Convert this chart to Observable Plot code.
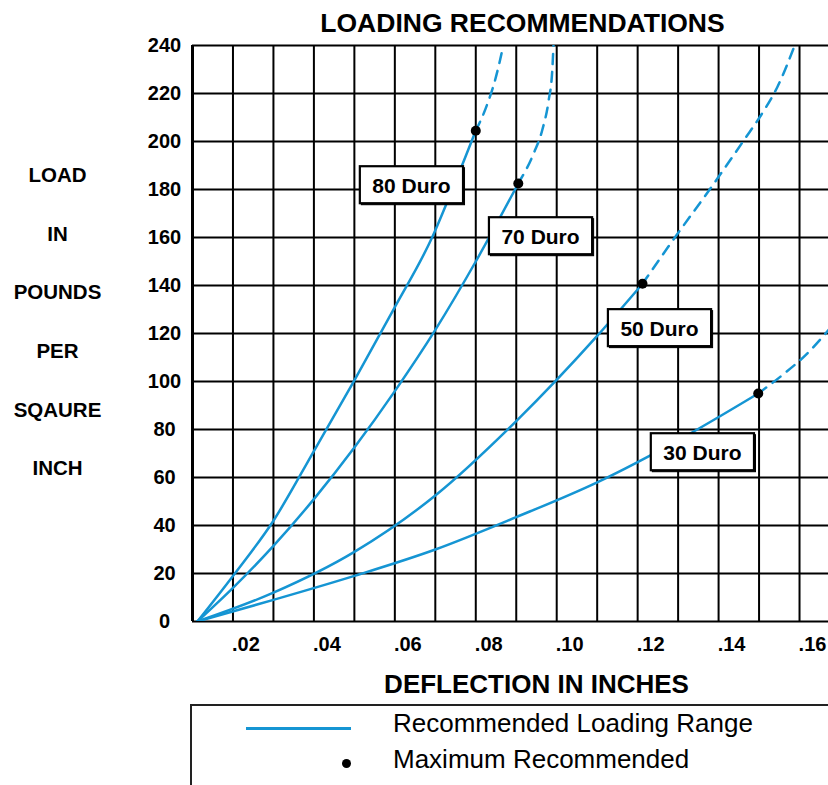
<!DOCTYPE html>
<html><head><meta charset="utf-8">
<script src="https://cdn.jsdelivr.net/npm/d3@7"></script>
<script src="https://cdn.jsdelivr.net/npm/@observablehq/plot@0.6"></script>
<style>
body{margin:0;background:#fff}
#wrap{position:relative;width:828px;height:785px;overflow:hidden;font-family:"Liberation Sans",Arial,Helvetica,sans-serif;color:#000;background:#fff}
.abs{position:absolute;white-space:nowrap}
</style></head><body>
<div id="wrap">
<div class="abs" id="title" style="left:522.5px;top:10px;transform:translateX(-50%);font-size:26.5px;line-height:26.5px;font-weight:bold">LOADING RECOMMENDATIONS</div>
<div class="abs" id="chart" style="left:0;top:36px"></div>
<div class="abs" id="xlabel" style="left:536.5px;top:671px;transform:translateX(-50%);font-size:26px;line-height:26px;font-weight:bold">DEFLECTION IN INCHES</div>
<div class="abs" id="legend" style="left:190px;top:704px;width:700px;height:100px;border-left:2px solid #222;border-top:2px solid #222">
  <div class="abs" style="left:54px;top:21px;width:105px;height:3px;background:#1595d3"></div>
  <div class="abs" id="leg1" style="left:201px;top:4px;font-size:26px;line-height:26px"></div>
  <div class="abs" style="left:149.5px;top:53px;width:9px;height:9px;border-radius:50%;background:#000"></div>
  <div class="abs" id="leg2" style="left:201px;top:40px;font-size:26px;line-height:26px"></div>
</div>
</div>
<script>
// ---- data ----
const series = ["80 Duro", "70 Duro", "50 Duro", "30 Duro"];

const rec80x = [0.0112, 0.0200, 0.0300, 0.0400, 0.0500, 0.0600, 0.0692, 0.0742, 0.0800];
const rec80y = [0, 19, 42, 71, 100.5, 131, 160, 180, 204.5];
const ext80x = [0.0800, 0.0825, 0.0850, 0.0868];
const ext80y = [204.5, 214, 227, 240];

const rec70x = [0.0112, 0.0200, 0.0300, 0.0400, 0.0500, 0.0600, 0.0700, 0.0800, 0.0905];
const rec70y = [0, 14, 31.5, 51, 72.5, 96, 121.5, 150, 182.5];
const ext70x = [0.0905, 0.0943, 0.0964, 0.0980, 0.0989, 0.0992];
const ext70y = [182.5, 195, 204.6, 217, 229.6, 240];

const rec50x = [0.0112, 0.0300, 0.0500, 0.0700, 0.0900, 0.1100, 0.1212];
const rec50y = [0, 12, 29, 52.5, 83.5, 119, 140.7];
const ext50x = [0.1212, 0.1273, 0.1388, 0.1462, 0.1512, 0.1545, 0.1588];
const ext50y = [140.7, 155.5, 182.4, 200.4, 212.9, 222.6, 240];

const rec30x = [0.0112, 0.0300, 0.0500, 0.0700, 0.0900, 0.1100, 0.1300, 0.1498];
const rec30y = [0, 9, 19, 30, 43.5, 58, 75.5, 95];
const ext30x = [0.1498, 0.1560, 0.1615, 0.1672];
const ext30y = [95, 103, 111, 121.5];

const maxX = [0.0800, 0.0905, 0.1212, 0.1498];
const maxY = [204.5, 182.5, 140.7, 95];

const labelX = [0.0641, 0.0960, 0.1254, 0.1360];
const labelY = [181.25, 160, 121.7, 70];

const xGrid = [0.01, 0.02, 0.03, 0.04, 0.05, 0.06, 0.07, 0.08, 0.09, 0.10, 0.11, 0.12, 0.13, 0.14, 0.15, 0.16];
const xTicks = [0.02, 0.04, 0.06, 0.08, 0.10, 0.12, 0.14, 0.16];
const yTicks = [0, 20, 40, 60, 80, 100, 120, 140, 160, 180, 200, 220, 240];

const yTitleLines = ["LOAD", "IN", "POUNDS", "PER", "SQAURE", "INCH"];
const legendTexts = ["Recommended Loading Range", "Maximum Recommended"];

// ---- build tables ----
const recAll = [[rec80x, rec80y], [rec70x, rec70y], [rec50x, rec50y], [rec30x, rec30y]];
const extAll = [[ext80x, ext80y], [ext70x, ext70y], [ext50x, ext50y], [ext30x, ext30y]];
const toRows = (arr) => arr.flatMap(([xs, ys], i) => xs.map((x, j) => ({s: series[i], x, y: ys[j]})));
const recRows = toRows(recAll);
const extRows = toRows(extAll);
const maxRows = series.map((s, i) => ({s, x: maxX[i], y: maxY[i]}));
const labelRows = series.map((s, i) => ({s, x: labelX[i], y: labelY[i]}));

document.getElementById("leg1").textContent = legendTexts[0];
document.getElementById("leg2").textContent = legendTexts[1];

const blue = "#1595d3";

const chart = Plot.plot({
  width: 828,
  height: 630,
  marginLeft: 192,
  marginRight: 0,
  marginTop: 9,
  marginBottom: 45,
  style: "font-family:'Liberation Sans',Arial,sans-serif;font-size:20px;font-weight:bold;background:#fff;overflow:visible",
  x: {domain: [0.01, 0.16716], label: null},
  y: {domain: [0, 240], label: null},
  marks: [
    Plot.ruleX(xGrid, {stroke: "#000", strokeWidth: 2}),
    Plot.ruleY(yTicks, {stroke: "#000", strokeWidth: 2}),
    Plot.ruleX([xGrid[0]], {stroke: "#000", strokeWidth: 3}),
    Plot.axisX({ticks: xTicks, tickFormat: d => d.toFixed(2).replace(/^0/, ""), tickSize: 0, tickPadding: 15, dx: 13, label: null}),
    Plot.axisY({ticks: yTicks, tickFormat: d => String(d), tickSize: 0, tickPadding: 28, textAnchor: "middle", label: null}),
    Plot.line(recRows, {x: "x", y: "y", z: "s", stroke: blue, strokeWidth: 2.5, curve: "monotone-x", clip: true}),
    Plot.line(extRows, {x: "x", y: "y", z: "s", stroke: blue, strokeWidth: 2.5, strokeDasharray: "10,8", curve: "monotone-x", clip: true}),
    Plot.dot(maxRows, {x: "x", y: "y", r: 5, fill: "#000", stroke: null}),
    Plot.text([yTitleLines.join("\n")], {text: d => d, frameAnchor: "left", dx: -135, dy: -23.5, lineHeight: 2.86, textAnchor: "middle", fontSize: 20.5}),
    Plot.text(labelRows, {x: "x", y: "y", text: "s", fontSize: 21, fill: "#000"})
  ]
});

document.getElementById("chart").appendChild(chart);

// boxes (with a slight shadow) behind the "Duro" labels
const ns = "http://www.w3.org/2000/svg";
chart.querySelectorAll("text").forEach(t => {
  if (!t.textContent.includes("Duro")) return;
  const b = t.getBBox();
  const tr = t.getAttribute("transform");
  const mk = (off, fill, sw) => {
    const r = document.createElementNS(ns, "rect");
    r.setAttribute("x", b.x - 12.5 + off);
    r.setAttribute("y", b.y - 8 + off);
    r.setAttribute("width", b.width + 25);
    r.setAttribute("height", b.height + 14);
    r.setAttribute("fill", fill);
    r.setAttribute("stroke", "#000");
    r.setAttribute("stroke-width", sw);
    if (tr) r.setAttribute("transform", tr);
    t.parentNode.insertBefore(r, t);
  };
  mk(1.5, "#000", 1);
  mk(0, "#fff", 2.2);
});
</script>
</body></html>
